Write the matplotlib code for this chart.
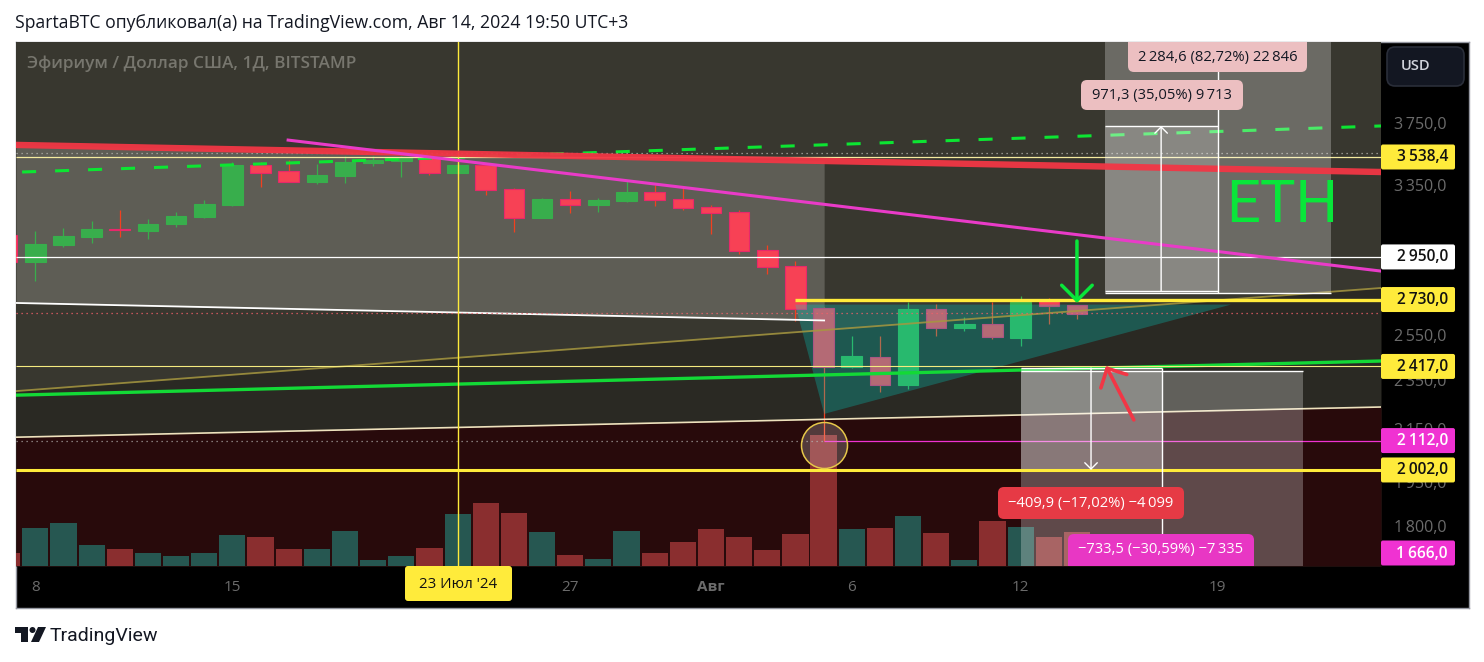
import numpy as np
import matplotlib
matplotlib.use("Agg")
import matplotlib.pyplot as plt
from matplotlib.patches import FancyBboxPatch, Polygon, Circle
from matplotlib.transforms import IdentityTransform

plt.rcParams['font.family'] = ['Open Sans', 'DejaVu Sans']

W, H = 1484, 662

# days counted from 8 July 2024
days = list(range(-1, 38))
opens = [3070, 2925, 3015, 3059, 3104, 3092, 3132, 3172, 3242, 3485, 3450, 3381, 3418,
         3500, 3513, 3538, 3437, 3487, 3338, 3167, 3278, 3242, 3266, 3320, 3278, 3231,
         3201, 2988, 2902, 2688, 2414, 2458, 2337, 2683, 2592, 2611, 2545, 2728, 2703]
highs = [3085, 3092, 3110, 3149, 3213, 3161, 3201, 3272, 3506, 3506, 3519, 3494, 3545,
         3545, 3545, 3550, 3500, 3494, 3344, 3284, 3326, 3284, 3387, 3362, 3344, 3242,
         3213, 3015, 2929, 2693, 2555, 2555, 2718, 2708, 2645, 2718, 2748, 2738, 2703]
lows = [2915, 2825, 3006, 3026, 3059, 3048, 3115, 3167, 3236, 3352, 3381, 3369, 3375,
        3481, 3412, 3424, 3430, 3302, 3087, 3165, 3196, 3201, 3260, 3236, 3213, 3076,
        2966, 2860, 2625, 2112, 2412, 2308, 2320, 2555, 2578, 2541, 2508, 2611, 2635]
closes = [2923, 3019, 3064, 3104, 3101, 3132, 3178, 3248, 3487, 3437, 3381, 3424, 3506,
          3519, 3538, 3437, 3487, 3332, 3167, 3278, 3242, 3272, 3320, 3272, 3225, 3196,
          2983, 2897, 2683, 2414, 2463, 2337, 2683, 2592, 2611, 2550, 2718, 2698, 2658]
volumes = [13, 38, 43, 21, 17, 13, 10, 13, 31, 29, 17, 17, 35, 6, 10, 18, 52, 63, 53, 34,
           11, 7, 35, 13, 24, 37, 29, 16, 32, 131, 37, 38, 50, 33, 6, 45, 39, 29, 34]

x_min, x_max = -0.686, 47.80
y_min, y_max = 1681, 4362

red_line = [3617, 3443]
olive_line = [2311, 2788]
green_line = [2294, 2441]
tan_line = [2125, 2245]
dash_x = [-0.47, 47.80]
dash_y = [3443, 3744]
magenta_x = [8.98, 47.80]
magenta_y = [3649, 2875]
gray_x = [-0.686, 28.02]
gray_top = [3617, 3513]
gray_bottom = [2713, 2628]
teal_x = [26.99, 28.02, 42.47]
teal_y = [2705, 2217, 2705]

date_ticks = [0, 7, 19, 24, 29, 35, 42]
date_labels = ['8', '15', '27', 'Авг', '6', '12', '19']
price_ticks = [3750, 3350, 2950, 2550, 2350, 2150, 1950, 1800]
price_labels = ['3\u2009750,0', '3\u2009350,0', '2\u2009950,0', '2\u2009550,0',
                '2\u2009350,0', '2\u2009150,0', '1\u2009950,0', '1\u2009800,0']


def px_y(y):
    return H - y


def axes_at(zorder):
    a = fig.add_axes([16 / W, 1 - 566 / H, 1365 / W, 524 / H], zorder=zorder)
    a.set_xlim(x_min, x_max)
    for s in a.spines.values():
        s.set_visible(False)
    return a


def px_box(x0, y0, x1, y1, fc, ec='none', r=5, lw=0, parent=None, zorder=9):
    box = FancyBboxPatch((x0, px_y(y1)), x1 - x0, y1 - y0,
                         boxstyle=f"round,pad=0,rounding_size={r}",
                         transform=IdentityTransform(), fc=fc, ec=ec, lw=lw, zorder=zorder)
    if parent is None:
        fig.add_artist(box)
    else:
        parent.add_patch(box)
    return box


def px_text(x, y, s, parent=None, **kw):
    kw.setdefault('va', 'center')
    kw.setdefault('ha', 'center')
    target = fig if parent is None else parent
    return target.text(x, px_y(y), s, transform=IdentityTransform(), **kw)


fig = plt.figure(figsize=(W / 100, H / 100), dpi=100, facecolor='white')

# black frame of price and time scales
frame = fig.add_axes([16 / W, 1 - 608 / H, 1453 / W, 566 / H], zorder=0, facecolor='black')
frame.set_xticks([])
frame.set_yticks([])
for s in frame.spines.values():
    s.set_color('#9598a1')
    s.set_linewidth(1)

# background zones
base = axes_at(1)
base.set_yscale('log')
base.set_ylim(y_min, y_max)
base.axis('off')
base.add_patch(plt.Rectangle((0, 0), 1, 1, transform=base.transAxes, fc='#38372f', ec='none'))
base.fill_between([x_min, x_max], olive_line, y_min, color='#2a2923', lw=0)
base.fill_between([x_min, x_max], tan_line, y_min, color='#280a0b', lw=0)
base.fill_between(gray_x, gray_bottom, gray_top, color='#5e5d55', lw=0)

# volume
vol = axes_at(2)
vol.patch.set_alpha(0)
vol.set_ylim(0, 524)
vol.axis('off')
vol_colors = ['#265751' if c >= o else '#8a2e2f' for o, c in zip(opens, closes)]
vol.bar(days, volumes, width=0.93, color=vol_colors, lw=0)

# candles and drawings
ax = axes_at(3)
ax.patch.set_alpha(0)
ax.set_yscale('log')
ax.set_ylim(y_min, y_max)

up = [c >= o for o, c in zip(opens, closes)]
wick_colors = ['#38ae4c' if u else '#f2401f' for u in up]
ax.vlines(days, lows, highs, colors=wick_colors, lw=0.9, zorder=3)
body_low = np.minimum(opens, closes)
body_high = np.maximum(opens, closes)
ax.bar(days, body_high - body_low, bottom=body_low, width=0.73,
       color=['#38ae4c' if u else '#f74155' for u in up],
       edgecolor=['#38ae4c' if u else '#e8286a' for u in up], lw=0.8, zorder=3)

ax.fill(teal_x, teal_y, color=(0, 0.85, 0.8, 0.27), lw=0, zorder=4)

ax.plot([x_min, x_max], olive_line, color='#a6973f', lw=1.3, alpha=0.85, zorder=5)
ax.plot([x_min, x_max], green_line, color='#13d936', lw=2.4, zorder=5)
ax.plot([x_min, x_max], tan_line, color='#efe2bd', lw=1.2, zorder=5)
ax.plot(dash_x, dash_y, color='#0ce532', lw=2.2, ls=(0, (4.6, 6.2)), zorder=5)
ax.plot(gray_x, gray_bottom, color='white', lw=1.3, zorder=5)

ax.hlines(3562, x_min, x_max, color='#b0b0aa', lw=0.9, ls=(0, (1, 3)), zorder=5)
ax.hlines(2662, x_min, x_max, color='#f0606a', lw=0.9, ls=(0, (1, 3)), zorder=5)
ax.hlines(2112, x_min, 28.02, color='#a09a9a', lw=0.9, ls=(0, (1, 3)), zorder=5)
ax.hlines(2112, 28.02, x_max, color='#f032d2', lw=0.9, zorder=5)
ax.hlines(3538.4, x_min, x_max, color='#f5eba0', lw=0.9, zorder=5)
ax.hlines(2950, x_min, x_max, color='white', lw=0.9, zorder=5)
ax.hlines(2417, x_min, x_max, color='#f5eb80', lw=0.8, zorder=5)
ax.axvline(15.02, color='#ffeb3b', lw=1, zorder=5)

# position boxes
ax.fill_between([38.0, 46.03], 2763, y_max, color='white', alpha=0.26, lw=0, zorder=6)
ax.fill_between([38.0, 42.02], 2773, 3744, color='white', alpha=0.2, lw=0, zorder=6)
ax.fill_between([35.02, 45.03], y_min, 2398, color='white', alpha=0.26, lw=0, zorder=6)
ax.fill_between([35.02, 40.03], 2002, 2410, color='white', alpha=0.26, lw=0, zorder=6)

ax.plot([x_min, x_max], red_line, color='#f23645', lw=4.6, alpha=0.95, solid_capstyle='butt', zorder=6.5)
ax.plot(magenta_x, magenta_y, color='#e93bc8', lw=2.2, zorder=6.5)

ax.hlines(2002, x_min, x_max, color='#ffeb3b', lw=2.2, zorder=7)
ax.hlines(2730, 26.99, x_max, color='#ffeb3b', lw=2.4, zorder=7)

ax.hlines([3744, 2773], 38.0, 42.02, color='white', lw=1, zorder=7)
ax.hlines(2763, 38.0, 46.03, color='white', lw=1, zorder=7)
ax.hlines(2410, 35.02, 40.03, color='white', lw=1, zorder=7)
ax.hlines(2398, 35.02, 45.03, color='white', lw=1, zorder=7)
ax.vlines(42.02, 2763, y_max, color='white', lw=1, zorder=7)
ax.vlines(40.03, y_min, 2410, color='white', lw=1, zorder=7)


def arrow(x0, y0, x1, y1, color, lw, head, zorder=8):
    ax.annotate('', xy=(x1, y1), xytext=(x0, y0), zorder=zorder, annotation_clip=False,
                arrowprops=dict(arrowstyle=f'->,head_length={head},head_width={head}', mutation_scale=1,
                                color=color, lw=lw, shrinkA=0, shrinkB=0))


arrow(39.99, 2773, 39.99, 3744, 'white', 1, 4.5)
arrow(37.5, 2410, 37.5, 2002, 'white', 1, 4.5)
arrow(37, 3037, 37, 2713, '#09e63a', 2.5, 11)
arrow(39.02, 2193, 38.03, 2419, '#f23645', 2.6, 10.5)

ax.scatter([28.02], [2095], s=1097, facecolor=(1, 1, 1, 0.2), edgecolor='#e6c84a', lw=1.1, zorder=7)

# labels of the position tools
px_text(1282, 206, 'ETH', parent=ax, family=['Roboto', 'DejaVu Sans'], color='#09e63a', fontsize=43,
        zorder=10, clip_on=True)
pos_labels = [
    (1128, 36, 1307, 72, '#ecbfc1', '#131722', '2\u2009284,6 (82,72%) 22\u2009846'),
    (1081, 80, 1243, 110, '#ecbfc1', '#131722', '971,3 (35,05%) 9\u2009713'),
    (998, 487, 1184, 519, '#e63a45', 'white', '\u2212409,9 (\u221217,02%) \u22124\u2009099'),
    (1068, 534, 1254, 572, '#e837c4', 'white', '\u2212733,5 (\u221230,59%) \u22127\u2009335'),
]
for x0, y0, x1, y1, fc, tc, s in pos_labels:
    b = px_box(x0, y0, x1, y1, fc, r=6, parent=ax, zorder=9)
    b.set_clip_path(ax.patch)
    yc = (max(y0, 42) + min(y1, 566)) / 2
    px_text((x0 + x1) / 2, yc, s, parent=ax, color=tc, fontsize=10.6, zorder=10, clip_on=True)

# scales
ax.yaxis.tick_right()
ax.set_yticks(price_ticks)
ax.set_yticklabels(price_labels, fontsize=11.6, color='#6b6b6b', va='center')
ax.minorticks_off()
ax.set_xticks(date_ticks)
ax.set_xticklabels(date_labels, fontsize=11, color='#6b6b6b')
ax.tick_params(axis='both', length=0)
ax.tick_params(axis='y', pad=9)
ax.tick_params(axis='x', pad=10)
ax.get_xticklabels()[3].set_fontweight('bold')

fig.canvas.draw()

tags = [
    (3538.4, '3\u2009538,4', '#ffeb3b', '#111111'),
    (2950, '2\u2009950,0', 'white', '#111111'),
    (2730, '2\u2009730,0', '#ffeb3b', '#111111'),
    (2417, '2\u2009417,0', '#ffeb3b', '#111111'),
    (2112, '2\u2009112,0', '#f032d2', 'white'),
    (2002, '2\u2009002,0', '#ffeb3b', '#111111'),
    (1666, '1\u2009666,0', '#f032d2', 'white'),
]
for price, s, fc, tc in tags:
    yc = H - ax.transData.transform((0, price))[1]
    yc = min(yc, 553)
    px_box(1381, yc - 12.5, 1455, yc + 12.5, fc, r=2, zorder=5)
    px_text(1448, yc + 0.5, s, ha='right', color=tc, fontsize=11.2, fontweight='semibold', zorder=6)

px_box(1387, 47, 1464, 86, '#131722', ec='#2a2e39', r=8, lw=1.2, zorder=5)
px_text(1416, 66, 'USD', color='#d1d4dc', fontsize=10.5, fontweight='semibold', zorder=6)
px_box(405, 566, 512, 601, '#ffeb3b', r=3, zorder=5)
px_text(458, 584, "23 Июл '24", color='#111111', fontsize=10.8, zorder=6)

# header, watermark, footer
px_text(15, 23, 'SpartaBTC опубликовал(а) на TradingView.com, Авг 14, 2024 19:50 UTC+3',
        ha='left', color='#131722', fontsize=12.7, zorder=6)
px_text(27, 64, 'Эфириум / Доллар США, 1Д, BITSTAMP', ha='left', color='#77766e',
        fontsize=12.4, fontweight='semibold', zorder=6)
px_text(50, 636, 'TradingView', ha='left', family=['Roboto', 'DejaVu Sans'], color='#131722', fontsize=14, zorder=6)

logo_color = '#131722'
fig.add_artist(Polygon([(15, px_y(627)), (28, px_y(627)), (28, px_y(642)), (21, px_y(642)), (21, px_y(633)),
                        (15, px_y(633))], transform=IdentityTransform(), fc=logo_color, ec='none', zorder=6))
fig.add_artist(Circle((32.5, px_y(630)), 3, transform=IdentityTransform(), fc=logo_color, ec='none', zorder=6))
fig.add_artist(Polygon([(38, px_y(627)), (46, px_y(627)), (39, px_y(642)), (31, px_y(642))],
                       transform=IdentityTransform(), fc=logo_color, ec='none', zorder=6))

fig.savefig('out.png', dpi=100)
